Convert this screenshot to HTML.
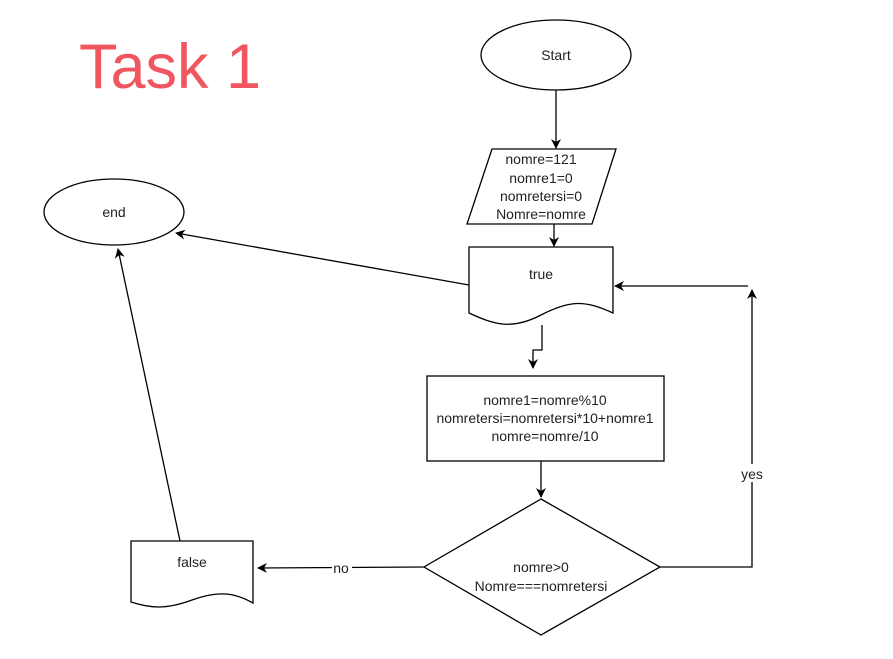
<!DOCTYPE html>
<html><head><meta charset="utf-8"><style>
html,body{margin:0;padding:0;background:#fff;}
svg{display:block;font-family:"Liberation Sans",Arial,sans-serif;}
</style></head><body>
<svg width="893" height="659" viewBox="0 0 893 659" xmlns="http://www.w3.org/2000/svg">
<defs><marker id="a" markerWidth="10" markerHeight="10" refX="9" refY="5" orient="auto" markerUnits="userSpaceOnUse"><path d="M0,0 L10,5 L0,10 L3,5 z" fill="#000"/></marker></defs>
<text x="79" y="88" font-size="63" fill="#ef5660">Task 1</text>
<g fill="none" stroke="#000" stroke-width="1.3">
<ellipse cx="556" cy="55" rx="75" ry="35" fill="#fff"/>
<line x1="556" y1="90" x2="556" y2="148" marker-end="url(#a)"/>
<polygon points="492,149 616,149 592,224 467,224" fill="#fff"/>
<line x1="554" y1="224" x2="554" y2="246" marker-end="url(#a)"/>
<path d="M469,247 H613 V313 C585,300 570,300 541,315 C512,330 495,325 469,313 Z" fill="#fff"/>
<polyline points="748,286 615,286" marker-end="url(#a)"/>
<polyline points="542,325 542,350 533,350 533,368" marker-end="url(#a)"/>
<rect x="427" y="376" width="237" height="85" fill="#fff"/>
<line x1="541" y1="461" x2="541" y2="497" marker-end="url(#a)"/>
<polygon points="541,499 660,567 541,635 424,567" fill="#fff"/>
<polyline points="660,567 752,567 752,290" marker-end="url(#a)"/>
<line x1="424" y1="567" x2="258" y2="568" marker-end="url(#a)"/>
<path d="M131,541 H253 V603 C235,593 220,590 192,600 C165,610 150,608 131,602 Z" fill="#fff"/>
<ellipse cx="114" cy="212" rx="70" ry="33" fill="#fff"/>
<line x1="180" y1="541" x2="118" y2="249" marker-end="url(#a)"/>
<line x1="469" y1="285" x2="176" y2="233" marker-end="url(#a)"/>
</g>
<rect x="734" y="464" width="36" height="18" fill="#fff"/>
<rect x="332" y="560" width="20" height="16" fill="#fff"/>
<g font-size="14" fill="#222" text-anchor="middle">
<text x="556" y="60">Start</text>
<text x="541" y="164">nomre=121</text>
<text x="541" y="183">nomre1=0</text>
<text x="541" y="201">nomretersi=0</text>
<text x="541" y="219">Nomre=nomre</text>
<text x="541" y="279">true</text>
<text x="545" y="405">nomre1=nomre%10</text>
<text x="545" y="423">nomretersi=nomretersi*10+nomre1</text>
<text x="545" y="441">nomre=nomre/10</text>
<text x="541" y="572">nomre&gt;0</text>
<text x="541" y="591">Nomre===nomretersi</text>
<text x="752" y="479">yes</text>
<text x="341" y="573">no</text>
<text x="192" y="567">false</text>
<text x="114" y="217">end</text>
</g>
</svg>
</body></html>
